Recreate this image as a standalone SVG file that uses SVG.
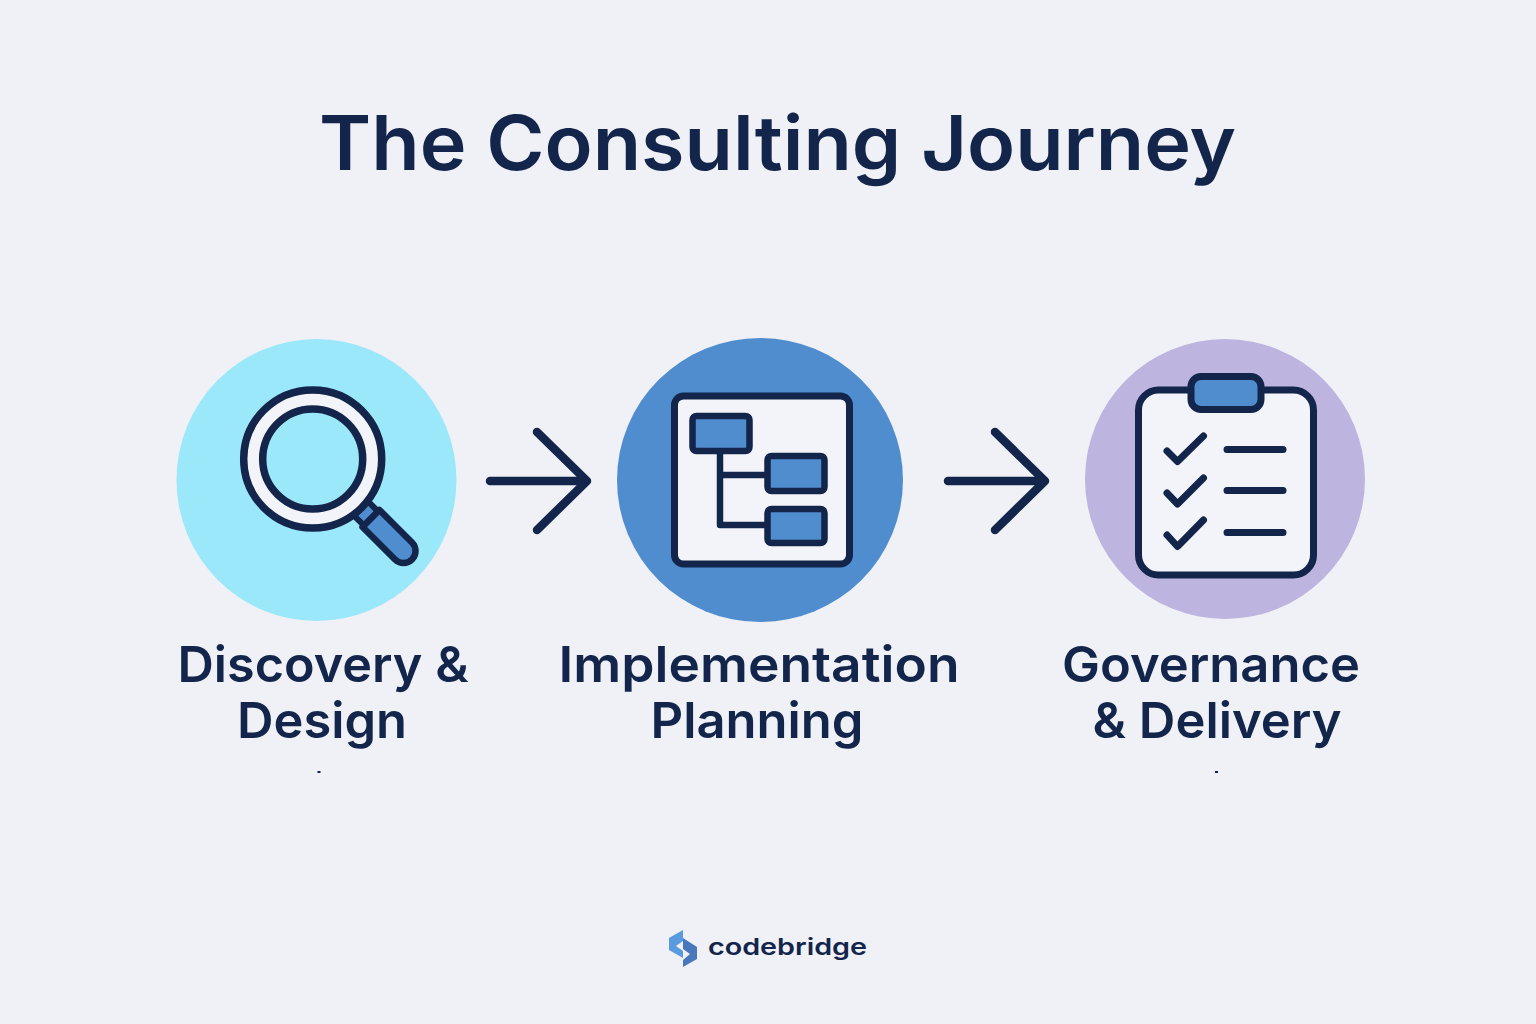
<svg xmlns="http://www.w3.org/2000/svg" width="1536" height="1024" viewBox="0 0 1536 1024">
<style>
.t{font-family:"Inter","Liberation Sans",sans-serif;fill:#13254a;text-anchor:middle}
.lab{font-size:50px;font-weight:600}
.ln{fill:none;stroke:#13254a;stroke-linecap:round;stroke-linejoin:round}
.bx{fill:#4f8dce;stroke:#13254a;stroke-width:6.500}
.pa{fill:#f3f4fa;stroke:#13254a;stroke-width:7}
</style>
<rect width="1536" height="1024" fill="#f0f1f7"/>
<text id="title" class="t" x="777.500" y="170" font-size="76" font-weight="600" textLength="917" lengthAdjust="spacingAndGlyphs">The Consulting Journey</text>
<g id="node-discovery">
<ellipse cx="316.500" cy="480" rx="140" ry="141" fill="#9ce8fb"/>
<g transform="translate(371 518.500) rotate(45)">
<path d="M-20 -10H0V10H-20Z" fill="#4f8dce" stroke="#13254a" stroke-width="6"/>
<path d="M0 -12H46A12 12 0 0 1 46 12H0Z" fill="#4f8dce" stroke="#13254a" stroke-width="6.500" stroke-linejoin="round"/>
</g>
<circle cx="312.700" cy="459" r="69" fill="#f3f4fa" stroke="#13254a" stroke-width="7.500"/>
<circle cx="312.700" cy="459" r="50" fill="#9ce8fb" stroke="#13254a" stroke-width="7.500"/>
<text class="t lab" x="323" y="682" textLength="291" lengthAdjust="spacingAndGlyphs">Discovery &amp;</text>
<text class="t lab" x="322" y="738" textLength="170" lengthAdjust="spacingAndGlyphs">Design</text>
<rect x="317.500" y="771" width="3" height="2" fill="#13254a"/>
</g>
<g id="node-implementation">
<ellipse cx="760" cy="480" rx="143" ry="142" fill="#4f8dce"/>
<rect class="pa" x="674.500" y="396" width="175" height="168" rx="9"/>
<path class="ln" stroke-width="6.500" d="M720 451V525H767M720 475H767"/>
<rect class="bx" x="692.500" y="416" width="57" height="35" rx="4"/>
<rect class="bx" x="767.500" y="456" width="57" height="35" rx="4"/>
<rect class="bx" x="767.500" y="509" width="57" height="34" rx="4"/>
<text class="t lab" x="759" y="682" textLength="401" lengthAdjust="spacingAndGlyphs">Implementation</text>
<text class="t lab" x="757" y="738" textLength="213" lengthAdjust="spacingAndGlyphs">Planning</text>
</g>
<g id="node-governance">
<circle cx="1225" cy="479" r="140" fill="#bdb4e0"/>
<rect class="pa" x="1138.500" y="390" width="175" height="185" rx="20"/>
<rect x="1191" y="376.500" width="70" height="33" rx="10" fill="#4f8dce" stroke="#13254a" stroke-width="7"/>
<path class="ln" stroke-width="7" d="M1167 451L1177.500 461.500L1203.500 436M1167 493L1177.500 504L1203.500 478M1167 535L1177.500 546.500L1203.500 520M1227 449.500H1283M1227 490.500H1283M1227 532.500H1283"/>
<text class="t lab" x="1211" y="682" textLength="298" lengthAdjust="spacingAndGlyphs">Governance</text>
<text class="t lab" x="1217" y="738" textLength="249" lengthAdjust="spacingAndGlyphs">&amp; Delivery</text>
<rect x="1215" y="771" width="3" height="2" fill="#13254a"/>
</g>
<g id="connectors">
<path class="ln" stroke-width="8.500" d="M490 481H587M537 432L587 481L537 530"/>
<path class="ln" stroke-width="8.500" d="M948 481H1045M995 432L1045 481L995 530"/>
</g>
<g id="logo">
<path fill="#5a9ade" d="M683 930L669 938V950L683 958V951L676 946L683 941Z"/>
<path fill="#4a78bd" d="M683 938L697 947V959L683 967V960L690 954L683 949Z"/>
<text x="708" y="955" font-family="Inter,sans-serif" font-size="23" font-weight="600" fill="#13254a" textLength="159" lengthAdjust="spacingAndGlyphs">codebridge</text>
</g>
</svg>
